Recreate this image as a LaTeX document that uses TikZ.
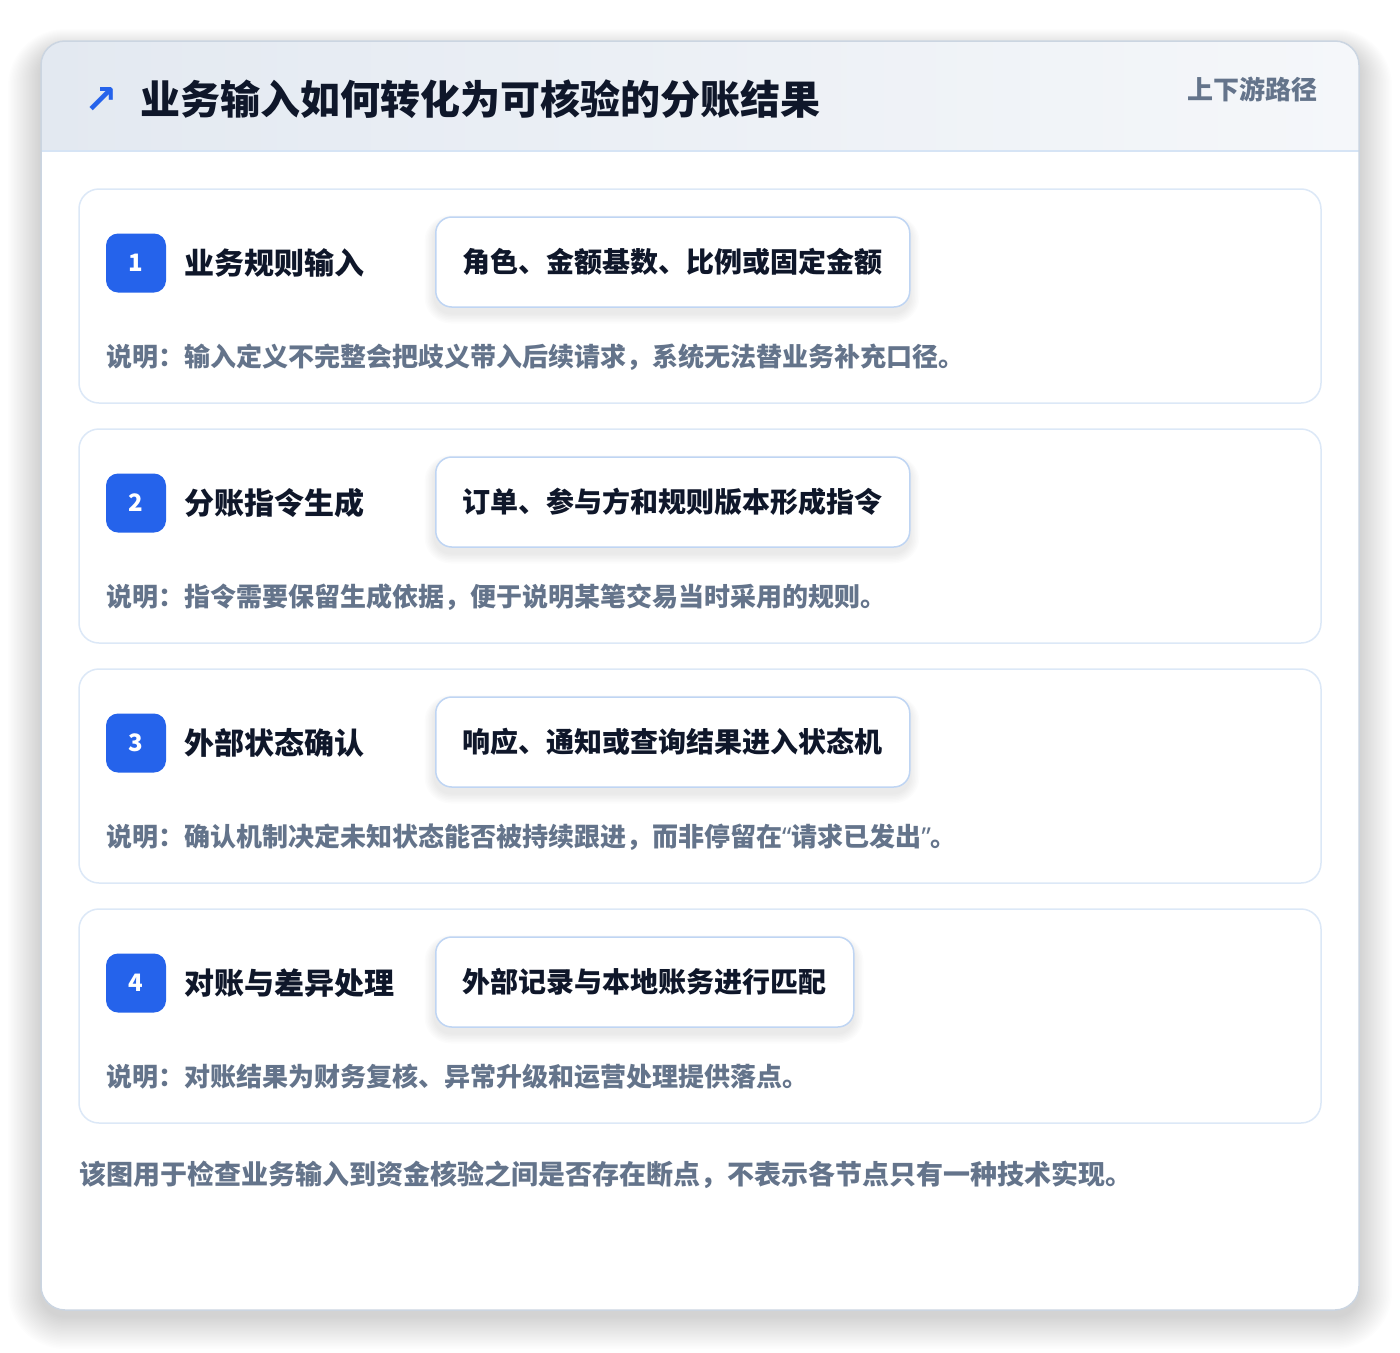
\documentclass[tikz,border=0pt]{standalone}
\usepackage{fontspec}
\setmainfont{Noto Sans CJK SC}
\newfontfamily\symf{DejaVu Sans}
\newfontfamily\latinf{Noto Sans}
\definecolor{cardborder}{HTML}{CBD5E1}
\definecolor{hdrL}{HTML}{E3E9F1}
\definecolor{hdrR}{HTML}{F5F7FA}
\definecolor{hdrline}{HTML}{D6E4F5}
\definecolor{stepborder}{HTML}{DCE8F7}
\definecolor{chipborder}{HTML}{BFD5F3}
\definecolor{accent}{HTML}{2563EB}
\definecolor{ink}{HTML}{0F172A}
\definecolor{muted}{HTML}{64748B}
\newcommand{\myLq}{{\latinf\bfseries “}}
\newcommand{\myRq}{{\latinf\bfseries ”}}
\tikzset{
  stepcard/.style={draw=stepborder, line width=1.5pt, fill=white, rounded corners=20pt},
  badge/.style={fill=accent, text=white, rounded corners=12pt, minimum width=60pt, minimum height=59pt, inner sep=0pt, font=\fontsize{24}{28}\selectfont\bfseries},
  steplabel/.style={anchor=west, inner sep=0pt, text=ink, font=\fontsize{30}{36}\selectfont\bfseries},
  chip/.style={anchor=west, draw=chipborder, line width=1.5pt, fill=white, rounded corners=16pt, minimum height=90pt, inner xsep=27pt, inner ysep=0pt, text=ink, font=\fontsize{28}{34}\selectfont\bfseries},
  desc/.style={anchor=west, inner sep=0pt, text=muted, font=\fontsize{26}{32}\selectfont\bfseries},
}
\begin{document}
\begin{tikzpicture}[x=1pt,y=-1pt]
\useasboundingbox (0,0) rectangle (1400,1352);
\fill[white] (0,0) rectangle (1400,1352);
% outer card shadow
\foreach \k in {1,...,22}{
  \fill[black, opacity=0.007, rounded corners={24pt+\k*1.5pt}] ({41-\k*1.5},{41-\k*1.0+10}) rectangle ({1359+\k*1.5},{1310+\k*1.5+6});
}
\fill[white, rounded corners=24pt] (41,41) rectangle (1359,1310);
\begin{scope}
\clip[rounded corners=24pt] (41,41) rectangle (1359,1310);
\shade[left color=hdrL, right color=hdrR] (41,41) rectangle (1359,151);
\draw[hdrline, line width=1.5pt] (41,151) -- (1359,151);
\end{scope}
\draw[cardborder, line width=1.5pt, rounded corners=24pt] (41,41) rectangle (1359,1310);
% header
\node[anchor=center, inner sep=0pt, text=accent, font=\symf\fontsize{40}{44}\selectfont\bfseries] (arrow) at (101,100) {↗};
\node[anchor=west, inner sep=0pt, text=ink, font=\fontsize{40}{48}\selectfont\bfseries] (title) at (140,99) {业务输入如何转化为可核验的分账结果};
\node[anchor=east, inner sep=0pt, text=muted, font=\fontsize{26}{32}\selectfont\bfseries] (tag) at (1318,89) {上下游路径};
% steps
\foreach \i/\lab/\chiptext/\desctext/\chipw in {
 1/业务规则输入/角色、金额基数、比例或固定金额/说明：输入定义不完整会把歧义带入后续请求，系统无法替业务补充口径。/474,
 2/分账指令生成/订单、参与方和规则版本形成指令/说明：指令需要保留生成依据，便于说明某笔交易当时采用的规则。/474,
 3/外部状态确认/响应、通知或查询结果进入状态机/说明：确认机制决定未知状态能否被持续跟进，而非停留在\myLq 请求已发出\myRq 。/474,
 4/对账与差异处理/外部记录与本地账务进行匹配/说明：对账结果为财务复核、异常升级和运营处理提供落点。/418}{
  \pgfmathsetmacro{\ytop}{189+240*(\i-1)}
  \draw[stepcard] (79,\ytop) rectangle (1321,\ytop+214);
  \foreach \k in {1,...,7}{
    \fill[black, opacity=0.010, rounded corners={16pt+\k*1.5pt}] ({435-\k*1.5},{\ytop+28-\k*1.0+5}) rectangle ({435+\chipw+\k*1.5},{\ytop+118+\k*1.5+6});
  }
  \node[badge] (badge\i) at (136,\ytop+74) {\i};
  \node[steplabel] (label\i) at (184,\ytop+74) {\lab};
  \node[chip] (chip\i) at (435,\ytop+73) {\chiptext};
  \node[desc] (desc\i) at (106,\ytop+168) {\desctext};
}
\node[anchor=west, inner sep=0pt, text=muted, font=\fontsize{27}{33}\selectfont\bfseries] (footer) at (79,1175) {该图用于检查业务输入到资金核验之间是否存在断点，不表示各节点只有一种技术实现。};
\end{tikzpicture}
\end{document}
